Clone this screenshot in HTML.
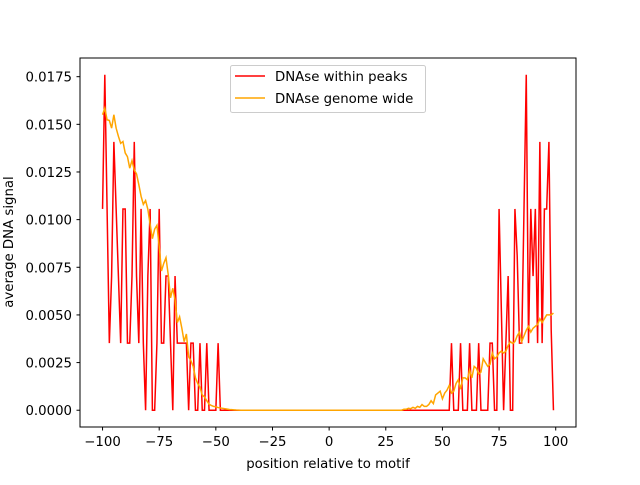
<!DOCTYPE html>
<html><head><meta charset="utf-8"><style>
body{margin:0;background:#fff}
svg text{font-family:"DejaVu Sans","Liberation Sans",sans-serif;font-size:13.3px;fill:#000}
</style></head><body>
<svg id="chart" width="640" height="480" xmlns="http://www.w3.org/2000/svg">
<rect x="0" y="0" width="640" height="480" fill="#fff"/>
<g id="ticks"></g>
<polyline id="red" fill="none" stroke="#ff0000" stroke-width="1.5"/>
<polyline id="orange" fill="none" stroke="#ffa500" stroke-width="1.5"/>
<rect x="80" y="58" width="496" height="369" fill="none" stroke="#000" stroke-width="1"/>
<text x="328" y="468" text-anchor="middle">position relative to motif</text>
<text transform="translate(13,242) rotate(-90)" text-anchor="middle">average DNA signal</text>
<g>
<rect x="230.5" y="65.5" width="195" height="47" rx="2" fill="#fff" fill-opacity="0.8" stroke="#ccc"/>
<line x1="235" y1="76" x2="265" y2="76" stroke="#ff0000" stroke-width="1.5"/>
<text x="275" y="81">DNAse within peaks</text>
<line x1="235" y1="98" x2="265" y2="98" stroke="#ffa500" stroke-width="1.5"/>
<text x="275" y="103">DNAse genome wide</text>
</g>
</svg>
<script>
const xTicks=[-100,-75,-50,-25,0,25,50,75,100];
const yTicks=[0,0.0025,0.005,0.0075,0.01,0.0125,0.015,0.0175];
const redUnit=0.00352;
// red levels (multiples of redUnit) for positions -100..-47 and 53..99
const redLeftLevels=[3,5,3,1,2,4,3,2,1,3,3,1,1,2,4,2,1,3,1,0,2,3,0,0,1,3,1,1,2,2,1,0,2,1,1,1,1,1,0,1,1,0,0,1,0,0,1,0,0,0,0,1,0,0];
const redRightLevels=[0,1,0,0,0,1,0,0,0,1,0,0,0,1,0,0,0,0,1,1,0,0,3,1.5,0,1,2,0,0,3,2.3,1,1,3,5,1,3,2,3,1,4,1,3,3,4,1.2,0];
const orangeLeft=[0.0155,0.01585,0.01524,0.0152,0.0148,0.0155,0.0148,0.01437,0.014,0.0141,0.0135,0.0133,0.0127,0.0131,0.0126,0.0124,0.01184,0.01123,0.0108,0.011,0.01054,0.00975,0.009,0.0095,0.0097,0.0086,0.0073,0.0077,0.008,0.0071,0.0059,0.0064,0.0058,0.0046,0.0049,0.0043,0.0036,0.004,0.0028,0.0026,0.0023,0.0017,0.0014,0.0012,0.0008,0.0007,0.0005,0.00032,0.00025,0.0002,0.00018,0.00014,0.00012,0.0001,0.00008,0.00006,0.00004,0.00003,0.00002,0.00001,0.000005,0];
const orangeRight=[0.00005,0.00005,0.0001,0.00008,0.00015,0.0001,0.0002,0.00015,0.0003,0.0002,0.0002,0.0003,0.0005,0.00035,0.0008,0.0009,0.001,0.0006,0.0009,0.00105,0.0013,0.0009,0.001,0.0014,0.0016,0.0011,0.0017,0.0017,0.0016,0.0021,0.0017,0.0023,0.0022,0.0019,0.002,0.0027,0.0025,0.0023,0.0024,0.003,0.0027,0.0028,0.003,0.0031,0.003,0.0031,0.0034,0.0036,0.0035,0.0036,0.0039,0.0041,0.0036,0.0039,0.0042,0.0044,0.0041,0.0043,0.0044,0.0045,0.0048,0.0046,0.0048,0.005,0.005,0.005,0.0051];
const positions=[];for(let p=-100;p<=99;p++)positions.push(p);
const redValues=positions.map(p=>{
  if(p<=-47)return redLeftLevels[p+100]*redUnit;
  if(p>=53)return redRightLevels[p-53]*redUnit;
  return 0;});
const orangeValues=positions.map(p=>{
  const i=p+100;
  if(i<orangeLeft.length)return orangeLeft[i];
  const j=p-(100-orangeRight.length);
  if(j>=0)return orangeRight[j];
  return 0;});
const X=v=>80+(v+109.95)/218.9*496;
const Y=v=>427-(v+0.00088)/0.01936*369;
const ns="http://www.w3.org/2000/svg";
const g=document.getElementById('ticks');
function mk(t,a){const e=document.createElementNS(ns,t);for(const k in a)e.setAttribute(k,a[k]);g.appendChild(e);return e;}
xTicks.forEach(t=>{
  const l=mk('line',{x1:X(t),y1:427,x2:X(t),y2:430.5,stroke:'#000'});
  
  
  const tx=mk('text',{x:X(t),y:446,'text-anchor':'middle'});
  tx.textContent=(t<0?'\u2212'+(-t):t);
  
  
});
yTicks.forEach(t=>{
  const l=mk('line',{x1:76.5,y1:Y(t),x2:80,y2:Y(t),stroke:'#000'});
  
  
  const tx=mk('text',{x:72,y:Y(t)+5,'text-anchor':'end'});
  tx.textContent=t.toFixed(4);
  
  
});
document.getElementById('red').setAttribute('points',positions.map((p,i)=>X(p).toFixed(2)+','+Y(redValues[i]).toFixed(2)).join(' '));
document.getElementById('orange').setAttribute('points',positions.map((p,i)=>X(p).toFixed(2)+','+Y(orangeValues[i]).toFixed(2)).join(' '));
</script>
</body></html>
